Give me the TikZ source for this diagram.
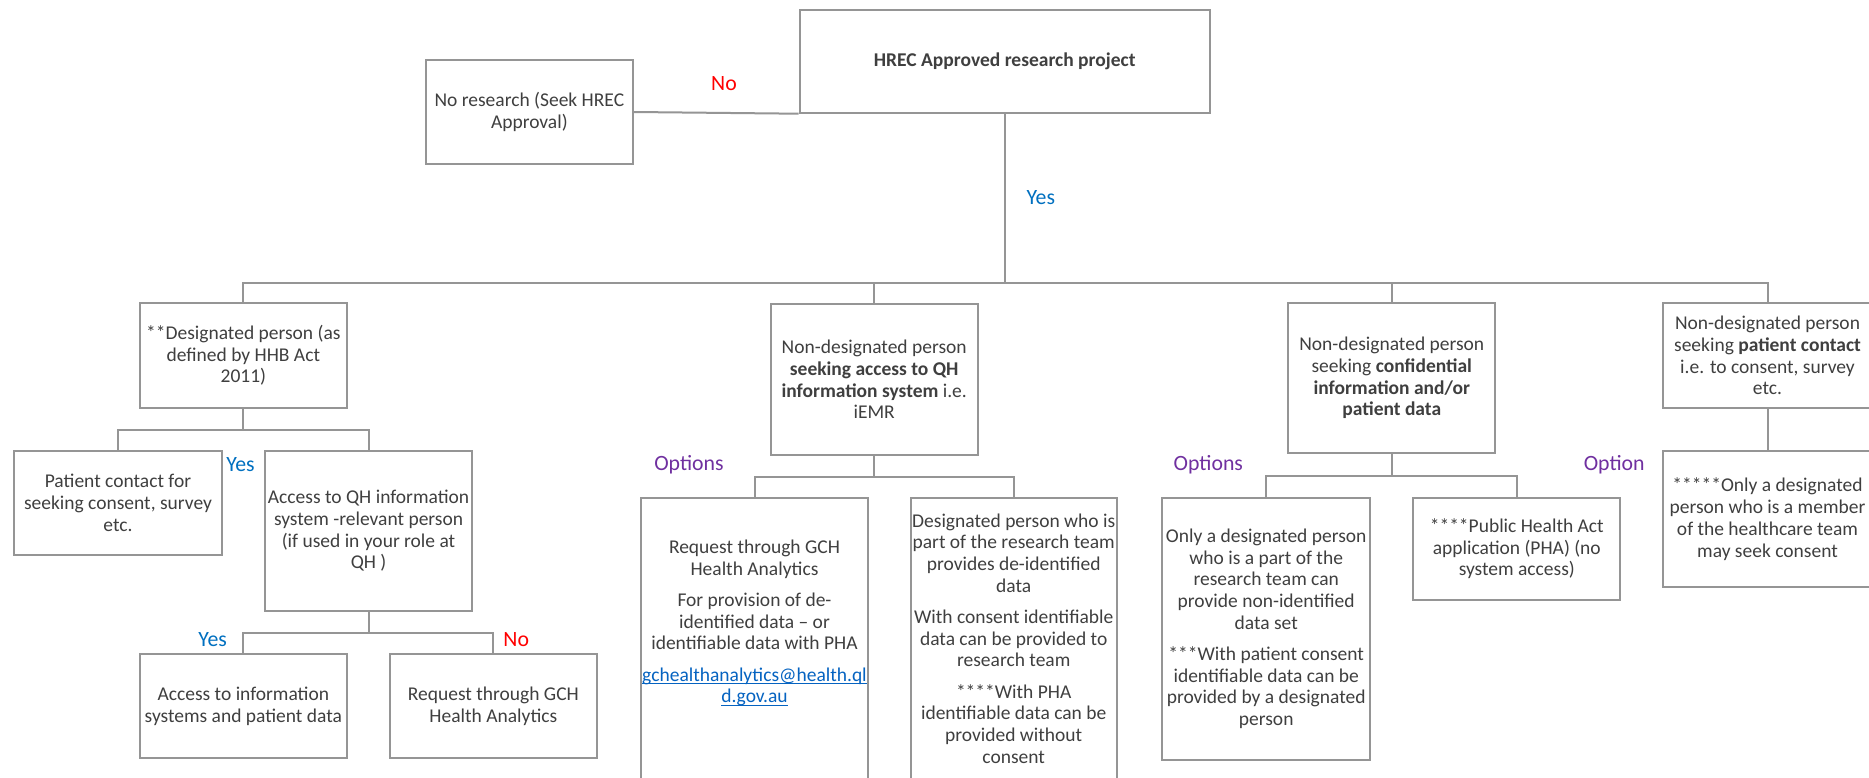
\documentclass[tikz,border=0pt]{standalone}
\usepackage{fontspec}
\setmainfont{Carlito}
\usepackage{tikz}
\usetikzlibrary{shapes,arrows.meta}
\definecolor{fcgrey}{HTML}{959595}
\definecolor{fctext}{HTML}{3F3F3F}
\definecolor{fcno}{HTML}{FF0000}
\definecolor{fcyes}{HTML}{0070C0}
\definecolor{fcopt}{HTML}{7030A0}
\definecolor{fclink}{HTML}{0563C1}
\tikzset{
  fcbox/.style={draw=fcgrey, line width=1pt, fill=white, inner xsep=0pt, inner ysep=2pt,
    align=center, text=fctext, font=\fontsize{9.75}{10.85}\selectfont},
  fcline/.style={draw=fcgrey, line width=1pt},
  fclabel/.style={inner sep=0pt, font=\fontsize{10.9}{13}\selectfont}
}
\newcommand{\fcbox}[5] {\node at (#1) (#2) [fcbox, minimum width=#3pt, minimum height=#4pt] {#5};}
\newcommand{\fctextnode}[3] {\node at (#1) (#2) [fcbox, draw=none, fill=none] {#3};}
\newcommand{\fclabel}[4] {\node at (#1) (#2) [fclabel, text=#3] {#4};}
\newcommand{\fcbranch}[3] {\draw [fcline] (#1.south) -- ++(0,#3) -| (#2.north);}
\newcommand{\fclink}[1] {{\color{fclink}\setbox0\hbox{#1}\rlap{\rule[-1.4pt]{\wd0}{0.5pt}}\box0}}

\begin{document}
\begin{tikzpicture}[x=0.5pt, y=-0.5pt]
\useasboundingbox (0,0) rectangle (1869,777);
\fill [white] (0,0) rectangle (1869,777);

% top level
\fcbox {1004.75,61.35} {hrec} {205.25} {51.35} {\textbf{HREC Approved research project}}
\fcbox {529.35,112} {nores} {103.85} {52} {No research (Seek HREC\\Approval)}

% second level
\fcbox {243.35,355.5} {desig} {103.25} {52.2} {**Designated person (as\\defined by HHB Act\\2011)}
\fcbox {874.2,379.65} {qhinfo} {103.3} {75.35} {Non-designated person\\\textbf{seeking access to QH}\\\textbf{information system} i.e.\\iEMR}
\fcbox {1391.75,378.15} {conf} {103.45} {74.85} {Non-designated person\\seeking \textbf{confidential}\\\textbf{information and/or}\\\textbf{patient data}}
\fcbox {1767.5,355.5} {pcontact} {104.5} {52.2} {Non-designated person\\seeking \textbf{patient contact}\\i.e. to consent, survey\\etc.}

% under designated person
\fcbox {117.95,503} {pcfs} {104.25} {52} {Patient contact for\\seeking consent, survey\\etc.}
\fcbox {368.55,531} {accqh} {103.25} {80} {Access to QH information\\system -relevant person\\(if used in your role at\\QH )}
\fcbox {243.35,706.3} {accinfo} {103.25} {52} {Access to information\\systems and patient data}
\fcbox {493.35,706.3} {reqgch} {103.65} {52} {Request through GCH\\Health Analytics}

% under QH information system
\fcbox {754.5,648.85} {reqpha} {113.6} {151.15} {}
\fctextnode {754.5,623} {reqphatext} {Request through GCH\\Health Analytics\\[4.75pt]For provision of de-\\identified data -- or\\identifiable data with PHA\\[4.75pt]\fclink{gchealthanalytics@health.ql}\\\fclink{d.gov.au}}
\fcbox {1013.7,638.4} {desteam} {102.8} {140.7} {Designated person who is\\part of the research team\\provides de-identified\\data\\[4.75pt]With consent identifiable\\data can be provided to\\research team\\[4.75pt]****With PHA\\identifiable data can be\\provided without\\consent}

% under confidential information
\fcbox {1266.2,628.85} {onlydes} {103.9} {131.15} {Only a designated person\\who is a part of the\\research team can\\provide non-identified\\data set\\[4.75pt]***With patient consent\\identifiable data can be\\provided by a designated\\person}
\fcbox {1516.8,548.85} {pha} {103.4} {51.15} {****Public Health Act\\application (PHA) (no\\system access)}

% under patient contact
\fcbox {1767.5,519.15} {member} {104.5} {68.15} {*****Only a designated\\person who is a member\\of the healthcare team\\may seek consent}

% connectors
\draw [fcline] (nores.east) -- (hrec.south west);
\fcbranch {hrec} {desig} {169.3}
\fcbranch {hrec} {qhinfo} {169.3}
\fcbranch {hrec} {conf} {169.3}
\fcbranch {hrec} {pcontact} {169.3}
\fcbranch {desig} {pcfs} {21.6}
\fcbranch {desig} {accqh} {21.6}
\fcbranch {accqh} {accinfo} {21.3}
\fcbranch {accqh} {reqgch} {21.3}
\fcbranch {qhinfo} {reqpha} {20.7}
\fcbranch {qhinfo} {desteam} {20.7}
\fcbranch {conf} {onlydes} {22}
\fcbranch {conf} {pha} {22}
\draw [fcline] (pcontact.south) -- (member.north);

% labels
\fclabel {724,84} {lno} {fcno} {No}
\fclabel {1040.8,197.3} {lyes} {fcyes} {Yes}
\fclabel {240.5,464.3} {lyespc} {fcyes} {Yes}
\fclabel {212.7,639.3} {lyesacc} {fcyes} {Yes}
\fclabel {516.2,639.3} {lnoacc} {fcno} {No}
\fclabel {689,464.3} {loptqh} {fcopt} {Options}
\fclabel {1208.3,464.3} {loptconf} {fcopt} {Options}
\fclabel {1614.2,464.3} {loptpha} {fcopt} {Option}
\end{tikzpicture}
\end{document}
